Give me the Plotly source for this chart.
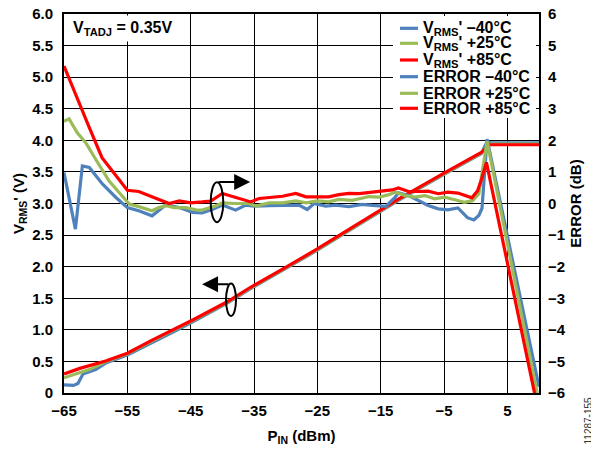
import plotly.graph_objects as go

# ---------------- data ----------------
# VRMS' (V) vs PIN (dBm)
vrms_red_x = [-65, -62.5, -58.3, -55, -51, -47.7, -44.6, -39.3, -35.6, -30, -25, -20, -15, -12.2, -5, 0.9, 2.2, 10]
vrms_red_y = [0.30, 0.39, 0.51, 0.63, 0.84, 1.00, 1.16, 1.44, 1.67, 1.99, 2.28, 2.59, 2.89, 3.07, 3.48, 3.81, 3.93, 3.93]

vrms_green_x = [-65, -63, -61, -58.3, -55, -51, -47.7, -44.6, -39.3, -35.6, -30, -25, -20, -15, -12.2, -5, 0.9, 2.2, 10]
vrms_green_y = [0.24, 0.30, 0.37, 0.50, 0.62, 0.83, 0.99, 1.15, 1.43, 1.66, 1.98, 2.27, 2.58, 2.88, 3.06, 3.47, 3.80, 3.94, 3.94]

vrms_blue_x = [-65, -63.5, -62.8, -62, -60, -58.3, -55, -51, -47.7, -44.6, -39.3, -35.6, -30, -25, -20, -15, -12.2, -5, 0.9, 1.8, 2.3, 10]
vrms_blue_y = [0.13, 0.12, 0.15, 0.30, 0.37, 0.48, 0.60, 0.81, 0.97, 1.13, 1.42, 1.65, 1.97, 2.26, 2.57, 2.87, 3.05, 3.46, 3.79, 3.98, 3.96, 3.96]

# ERROR (dB) vs PIN (dBm)
err_red_x = [-65, -63.2, -61, -59, -56.8, -55, -53.2, -50.8, -48.4, -46.8, -45, -43.2, -41.8, -40, -37.4,
             -35.5, -34.2, -32.6, -30.5, -28.4, -26.8, -25, -23.2, -21.6, -20, -18.4, -16.3, -14.7, -13.2,
             -12.2, -10.6, -9, -7.5, -5.9, -4.4, -2.8, -1.3, -0.6, 0.3, 0.9, 1.7, 9.4]
err_red_y = [4.35, 3.45, 2.40, 1.45, 0.87, 0.42, 0.38, 0.19, 0.00, 0.08, 0.02, 0.05, 0.08, 0.32, 0.16,
             0.05, 0.16, 0.19, 0.23, 0.32, 0.21, 0.21, 0.21, 0.28, 0.32, 0.31, 0.36, 0.41, 0.43,
             0.49, 0.38, 0.38, 0.39, 0.31, 0.36, 0.33, 0.24, 0.18, 0.40, 0.75, 1.30, -6.10]

err_green_x = [-65, -64.2, -62.9, -61.6, -60, -57.9, -56.3, -54.7, -53.2, -51.1, -50, -48.9, -47.6, -45.8,
               -44.2, -43.2, -41.1, -40, -37.9, -35.8, -34.7, -32.6, -30.5, -28.4, -26.8, -25, -23.2,
               -21.6, -19.5, -17.6, -16.8, -15.3, -13.7, -12.7, -11.1, -9.6, -8, -6.5, -4.9, -3.3, -1.8,
               -0.5, 0.5, 1.8, 9.8]
err_green_y = [2.60, 2.68, 2.24, 1.93, 1.40, 0.72, 0.35, -0.02, -0.10, -0.23, -0.13, -0.07, -0.13, -0.13,
               -0.20, -0.21, -0.08, 0.02, 0.00, 0.00, -0.08, 0.02, 0.02, 0.08, 0.02, 0.08, 0.05,
               0.13, 0.10, 0.19, 0.22, 0.20, 0.28, 0.36, 0.25, 0.20, 0.25, 0.15, 0.20, 0.12, 0.04,
               0.09, 0.31, 1.97, -6.10]

err_blue_x = [-65, -63.2, -62.1, -61, -58.9, -56.8, -55, -53.2, -51.1, -48.9, -46.8, -44.7, -43.2, -41.6,
              -40, -37.9, -36.3, -35, -32.6, -30, -27.9, -26.6, -25.5, -23.7, -22.1, -20, -17.9, -16.3,
              -14.2, -12.7, -12.2, -10.6, -9, -7.5, -5.9, -4.4, -2.8, -1.3, -0.3, 0.5, 1.0, 1.8, 10]
err_blue_y = [0.98, -0.81, 1.19, 1.14, 0.61, 0.19, -0.13, -0.23, -0.39, -0.04, -0.13, -0.28, -0.30, -0.19,
              -0.05, -0.21, -0.05, -0.08, -0.07, -0.05, -0.05, -0.19, 0.00, -0.08, -0.05, -0.10, -0.03, -0.06,
              -0.09, 0.20, 0.34, 0.25, 0.09, -0.06, -0.17, -0.20, -0.14, -0.45, -0.52, -0.38, -0.15, 2.04, -5.80]

x_ticks = [-65, -55, -45, -35, -25, -15, -5, 5]
y_ticks = [0, 0.5, 1.0, 1.5, 2.0, 2.5, 3.0, 3.5, 4.0, 4.5, 5.0, 5.5, 6.0]
y_ticktext = ["0", "0.5", "1.0", "1.5", "2.0", "2.5", "3.0", "3.5", "4.0", "4.5", "5.0", "5.5", "6.0"]
y2_ticks = [-6, -5, -4, -3, -2, -1, 0, 1, 2, 3, 4, 5, 6]

legend_labels = ["V<sub>RMS</sub>' –40°C", "V<sub>RMS</sub>' +25°C", "V<sub>RMS</sub>' +85°C",
                 "ERROR –40°C", "ERROR +25°C", "ERROR +85°C"]

# ---------------- styling ----------------
BLUE = "#4F81BD"
GREEN = "#9BBB59"
RED = "#FF0000"
LW = 3.2
FONT = "Liberation Sans, Arial, sans-serif"

W, H = 599, 450
OFF = 8  # page body margin offset of the figure
# plot area in page pixels: left 64, right 539, top 14, bottom 393
ML, MR, MT, MB = 64 - OFF, 599 - 539 + OFF, 14 - OFF, 450 - 393 + OFF
PW, PH = W - ML - MR, H - MT - MB


def px_x(px):
    return (px - OFF - ML) / PW


def px_y(py):
    return (H - MB - (py - OFF)) / PH


fig = go.Figure()

series = [
    (vrms_blue_x, vrms_blue_y, BLUE, "y"),
    (vrms_green_x, vrms_green_y, GREEN, "y"),
    (vrms_red_x, vrms_red_y, RED, "y"),
    (err_blue_x, err_blue_y, BLUE, "y2"),
    (err_green_x, err_green_y, GREEN, "y2"),
    (err_red_x, err_red_y, RED, "y2"),
]
for (xs, ys, col, ax), name in zip(series, legend_labels):
    fig.add_trace(go.Scatter(x=xs, y=ys, mode="lines", name=name, yaxis=ax,
                             line=dict(color=col, width=LW), showlegend=False))

tickfont = dict(family=FONT, size=15, color="black", weight="bold")
titlefont = dict(family=FONT, size=15, color="black", weight="bold")

fig.update_layout(
    width=W, height=H,
    margin=dict(l=ML, r=MR, t=MT, b=MB, autoexpand=False),
    paper_bgcolor="white", plot_bgcolor="white",
    xaxis=dict(range=[-65, 10], tickvals=x_ticks, showgrid=True, gridcolor="black", gridwidth=1.4,
               showline=True, linecolor="black", linewidth=2, mirror=True, zeroline=False,
               ticks="", tickfont=tickfont, ticklabelstandoff=3, automargin=False,
               ticklabeloverflow="allow",
               title=dict(text="P<sub>IN</sub> (dBm)", font=titlefont, standoff=12)),
    yaxis=dict(range=[0, 6], tickvals=y_ticks, ticktext=y_ticktext, showgrid=True, gridcolor="black",
               gridwidth=1.4, showline=True, linecolor="black", linewidth=2, mirror=True, zeroline=False,
               ticks="", tickfont=tickfont, ticklabelstandoff=6, automargin=False,
               ticklabeloverflow="allow",
               title=dict(text="V<sub>RMS</sub>' (V)", font=titlefont, standoff=4)),
    yaxis2=dict(range=[-6, 6], tickvals=y2_ticks, overlaying="y", side="right", showgrid=False,
                zeroline=False, ticks="", tickfont=tickfont, ticklabelstandoff=8, automargin=False,
                ticklabeloverflow="allow",
                title=dict(text="ERROR (dB)", font=titlefont, standoff=5)),
)

shapes = []
annotations = []

# legend box (white) and entries
shapes.append(dict(type="rect", xref="paper", yref="paper", x0=px_x(393), x1=px_x(536),
                   y0=px_y(118), y1=px_y(16), fillcolor="white", line=dict(width=0), layer="above"))
row_y = [28.3, 43.3, 60, 76.7, 93.3, 108.3]
row_col = [BLUE, GREEN, RED, BLUE, GREEN, RED]
for ry, col, lab in zip(row_y, row_col, legend_labels):
    shapes.append(dict(type="line", xref="paper", yref="paper", x0=px_x(400), x1=px_x(418),
                       y0=px_y(ry), y1=px_y(ry), line=dict(color=col, width=LW), layer="above"))
    annotations.append(dict(xref="paper", yref="paper", x=px_x(421), y=px_y(ry), xanchor="left",
                            yanchor="middle", text=lab, showarrow=False,
                            font=dict(family=FONT, size=16, color="black", weight="bold")))

# V_TADJ box
annotations.append(dict(xref="paper", yref="paper", x=px_x(69), y=px_y(15), xanchor="left", yanchor="top",
                        text="V<sub>TADJ</sub> = 0.35V", showarrow=False, bgcolor="white", borderpad=3,
                        font=dict(family=FONT, size=16, color="black", weight="bold")))

# ellipses with arrows (axis pointers)
shapes.append(dict(type="circle", xref="x", yref="y", x0=-41.84, x1=-39.85, y0=2.705, y1=3.336,
                   line=dict(color="black", width=2), layer="above"))
annotations.append(dict(xref="x", yref="y", axref="x", ayref="y", x=-35.6, y=3.34, ax=-40.84, ay=3.34,
                        showarrow=True, arrowhead=2, arrowsize=1.6, arrowwidth=2, arrowcolor="black", text=""))
shapes.append(dict(type="circle", xref="x", yref="y", x0=-39.42, x1=-37.84, y0=1.22, y1=1.732,
                   line=dict(color="black", width=2), layer="above"))
annotations.append(dict(xref="x", yref="y", axref="x", ayref="y", x=-43.2, y=1.72, ax=-38.79, ay=1.72,
                        showarrow=True, arrowhead=2, arrowsize=1.6, arrowwidth=2, arrowcolor="black", text=""))

# figure id
annotations.append(dict(xref="paper", yref="paper", x=px_x(595), y=px_y(447), text="11287-155",
                        textangle=-90, showarrow=False,
                        font=dict(family=FONT, size=10, color="#333333")))

fig.update_layout(shapes=shapes, annotations=annotations)
fig.write_html("out.html")
